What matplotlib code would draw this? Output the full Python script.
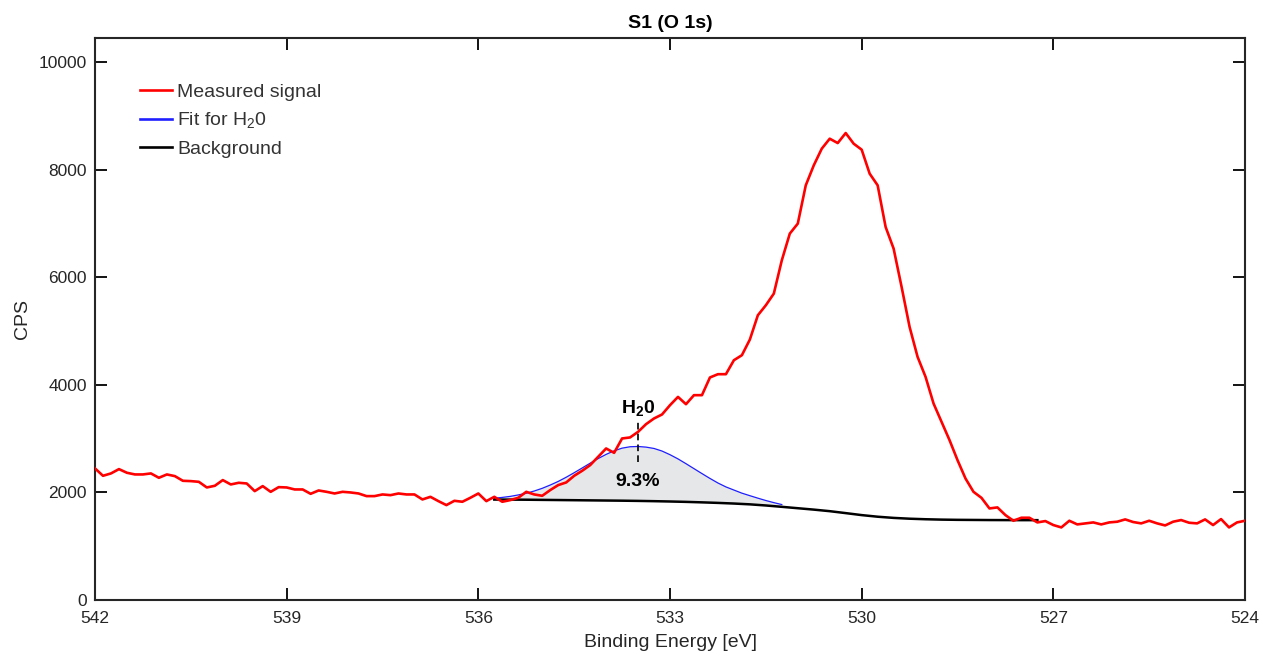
import numpy as np
import matplotlib
matplotlib.use('Agg')
import matplotlib.pyplot as plt

plt.rcParams['font.family'] = ['Liberation Sans', 'DejaVu Sans']
plt.rcParams['mathtext.fontset'] = 'custom'
plt.rcParams['mathtext.rm'] = 'Liberation Sans'
plt.rcParams['mathtext.bf'] = 'Liberation Sans:bold'
plt.rcParams['mathtext.default'] = 'regular'

# measured O 1s signal, 542 -> 524 eV, 0.125 eV step
energy = np.linspace(542, 524, 145)
cps = [2447, 2310, 2354, 2434, 2366, 2335, 2335, 2354, 2273, 2335,
       2304, 2217, 2211, 2198, 2093, 2124, 2230, 2149, 2180, 2167,
       2025, 2118, 2012, 2099, 2093, 2056, 2056, 1975, 2037, 2012,
       1981, 2012, 2000, 1981, 1932, 1932, 1963, 1950, 1981, 1963,
       1963, 1870, 1919, 1839, 1765, 1845, 1827, 1901, 1981, 1839,
       1919, 1827, 1858, 1901, 2012, 1963, 1938, 2044, 2137, 2186,
       2310, 2403, 2508, 2663, 2818, 2737, 3004, 3023, 3127, 3270,
       3376, 3450, 3623, 3777, 3641, 3809, 3809, 4138, 4199, 4199,
       4459, 4552, 4844, 5295, 5481, 5698, 6317, 6813, 6999, 7711,
       8082, 8392, 8578, 8497, 8683, 8485, 8374, 7928, 7711, 6936,
       6534, 5821, 5078, 4521, 4149, 3654, 3313, 2973, 2601, 2260,
       2012, 1900, 1703, 1722, 1579, 1474, 1530, 1530, 1443, 1468,
       1394, 1350, 1474, 1406, 1425, 1443, 1406, 1443, 1456, 1499,
       1450, 1425, 1474, 1425, 1387, 1456, 1487, 1437, 1425, 1499,
       1394, 1505, 1350, 1443, 1474]

# background (Shirley-like), 535.75 -> 527.25 eV, 0.25 eV step
bg_energy = np.linspace(535.75, 527.25, 35)
background = [1868, 1867, 1865, 1862, 1859, 1856, 1853, 1850, 1847, 1843,
              1838, 1832, 1825, 1816, 1806, 1794, 1779, 1758, 1733, 1707,
              1681, 1652, 1616, 1579, 1549, 1527, 1512, 1502, 1495, 1491,
              1489, 1487, 1486, 1485, 1485]

# fitted H2O component, 535.75 -> 531.25 eV, 0.125 eV step
fit_energy = np.linspace(535.75, 531.25, 37)
fit_h2o = [1893, 1908, 1927, 1954, 1985, 2027, 2077, 2138, 2205, 2283,
           2367, 2455, 2544, 2630, 2708, 2774, 2824, 2850, 2855, 2843,
           2818, 2770, 2702, 2624, 2535, 2443, 2351, 2261, 2176, 2103,
           2045, 1987, 1940, 1894, 1850, 1811, 1775]

peak_pos = 533.5
peak_pct = '9.3%'

fig = plt.figure(figsize=(12.65, 6.59), dpi=100)
ax = fig.add_axes([0.0751, 0.0895, 0.9091, 0.8528])

# shaded area between fit and background
n_bg = 19
poly_x = np.concatenate([fit_energy, bg_energy[:n_bg][::-1]])
poly_y = np.concatenate([fit_h2o, background[:n_bg][::-1]])
ax.fill(poly_x, poly_y, color='#e6e7e8', lw=0, zorder=1)

ax.plot(energy, cps, color='#ff0000', lw=1.9, label='Measured signal', zorder=3)
ax.plot(fit_energy, fit_h2o, color='#1f1fff', lw=0.9, zorder=2)
ax.plot(bg_energy, background, color='black', lw=1.8, zorder=2)

# legend handles
ax.plot([], [], color='#1f1fff', lw=1.9, label='Fit for H$_2$0')
ax.plot([], [], color='black', lw=1.9, label='Background')

ax.plot([peak_pos, peak_pos], [2560, 3340], color='black', lw=1.2, ls=(0, (4, 2.5)), zorder=4)
ax.text(peak_pos, 3390, r'H$_\mathbf{2}$0', ha='center', va='bottom', fontsize=14, fontweight='bold')
ax.text(peak_pos, 2210, peak_pct, ha='center', va='center', fontsize=14, fontweight='bold')

ax.set_xlim(542, 524)
ax.set_ylim(0, 10450)
ax.set_xticks(np.arange(542, 523, -3))
ax.set_yticks(np.arange(0, 10001, 2000))
ax.tick_params(direction='in', length=8.5, width=1.3, top=True, right=True,
               labelsize=12.5, labelcolor='#262626', pad=6)
ax.tick_params(axis='x', pad=8)
for s in ax.spines.values():
    s.set_linewidth(1.5)
    s.set_color('#262626')

ax.set_xlabel('Binding Energy [eV]', fontsize=14, color='#262626', labelpad=6)
ax.set_ylabel('CPS', fontsize=14, color='#262626', labelpad=5)
ax.set_title('S1 (O 1s)', fontsize=14, fontweight='bold', pad=7)

leg = ax.legend(loc='upper left', bbox_to_anchor=(0.039, 0.92), frameon=False,
                fontsize=14, handlelength=1.65, labelspacing=0.5, handletextpad=0.28,
                borderaxespad=0, borderpad=0)
for t in leg.get_texts():
    t.set_color('#333333')

fig.savefig('out.png', dpi=100)
